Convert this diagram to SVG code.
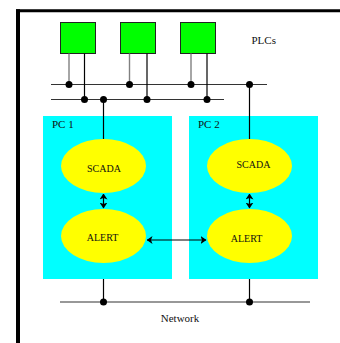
<svg xmlns="http://www.w3.org/2000/svg" width="340" height="343" viewBox="0 0 340 343">
  <style>
    .frame { stroke: #000; fill: none; }
    .plc { fill: #00ff00; stroke: #222; stroke-width: 1; }
    .pc { fill: #00ffff; stroke: none; }
    .app { fill: #ffff00; stroke: none; }
    .wire { stroke: #000; stroke-width: 1.2; fill: none; }
    .wire-grey { stroke: #808080; stroke-width: 1.4; fill: none; }
    .bus { stroke: #333; stroke-width: 1.2; fill: none; }
    .dot { fill: #000; }
    .lbl { font-family: "Liberation Serif", "Times New Roman", serif; font-size: 11px; fill: #111; }
    .app-lbl { font-family: "Liberation Serif", "Times New Roman", serif; font-size: 10px; fill: #111; text-anchor: middle; }
  </style>
  <defs>
    <marker id="head" viewBox="0 0 6 8" refX="5.5" refY="4" markerWidth="6" markerHeight="8" markerUnits="userSpaceOnUse" orient="auto-start-reverse">
      <path d="M0,0 L6,4 L0,8 L1.5,4 Z" fill="#000"/>
    </marker>
  </defs>

  <rect width="340" height="343" fill="#fff"/>

  <!-- outer frame (top and left edges) -->
  <g id="frame" class="frame">
    <line x1="16" y1="10.7" x2="340" y2="10.7" stroke-width="3"/>
    <line x1="18" y1="9.2" x2="18" y2="343" stroke-width="4"/>
  </g>

  <!-- field controllers -->
  <g id="plc1"><rect class="plc" x="60.5" y="22.5" width="35" height="31"/></g>
  <g id="plc2"><rect class="plc" x="120.5" y="22.5" width="35" height="31"/></g>
  <g id="plc3"><rect class="plc" x="180.5" y="22.5" width="35" height="31"/></g>
  <g id="plcs-label"><text class="lbl" x="251.5" y="44">PLCs</text></g>

  <!-- workstations -->
  <g id="pc1">
    <rect class="pc" x="43" y="116" width="129" height="163"/>
    <text class="lbl" x="52" y="128">PC 1</text>
  </g>
  <g id="pc2">
    <rect class="pc" x="189" y="116" width="129" height="163"/>
    <text class="lbl" x="198" y="128">PC 2</text>
  </g>

  <g id="scada1">
    <ellipse class="app" cx="103.5" cy="166" rx="42.5" ry="27"/>
    <text class="app-lbl" x="104" y="172">SCADA</text>
  </g>
  <g id="alert1">
    <ellipse class="app" cx="103.5" cy="236" rx="42.5" ry="27"/>
    <text class="app-lbl" x="102.5" y="241">ALERT</text>
  </g>
  <g id="scada2">
    <ellipse class="app" cx="249.5" cy="166" rx="42.5" ry="27"/>
    <text class="app-lbl" x="253.5" y="168">SCADA</text>
  </g>
  <g id="alert2">
    <ellipse class="app" cx="249.5" cy="236" rx="42.5" ry="27"/>
    <text class="app-lbl" x="246.5" y="242">ALERT</text>
  </g>

  <g id="network-label"><text class="lbl" x="180" y="322" text-anchor="middle">Network</text></g>

  <!-- connectors -->
  <g id="connectors">
    <!-- field buses -->
    <line class="bus" x1="51" y1="84.5" x2="267" y2="84.5"/>
    <line class="bus" x1="51" y1="99.5" x2="224" y2="99.5"/>

    <!-- PLC drops -->
    <line class="wire-grey" x1="69" y1="53.5" x2="69" y2="84.5"/>
    <line class="wire" x1="84.5" y1="53.5" x2="84.5" y2="99.5"/>
    <line class="wire-grey" x1="129.5" y1="53.5" x2="129.5" y2="84.5"/>
    <line class="wire" x1="147" y1="53.5" x2="147" y2="99.5"/>
    <line class="wire-grey" x1="191" y1="53.5" x2="191" y2="84.5"/>
    <line class="wire" x1="207" y1="53.5" x2="207" y2="99.5"/>

    <!-- bus to SCADA -->
    <line class="wire" x1="103.5" y1="99.5" x2="103.5" y2="139"/>
    <line class="wire" x1="249.5" y1="84.5" x2="249.5" y2="139"/>

    <!-- SCADA <-> ALERT -->
    <line class="wire" x1="103.5" y1="194" x2="103.5" y2="208" marker-start="url(#head)" marker-end="url(#head)"/>
    <line class="wire" x1="249.5" y1="194" x2="249.5" y2="208" marker-start="url(#head)" marker-end="url(#head)"/>

    <!-- ALERT <-> ALERT -->
    <line class="wire" x1="147" y1="240" x2="206" y2="240" marker-start="url(#head)" marker-end="url(#head)"/>

    <!-- network -->
    <line class="bus" x1="60" y1="302" x2="310" y2="302"/>
    <line class="wire" x1="103.5" y1="279" x2="103.5" y2="302"/>
    <line class="wire" x1="249.5" y1="279" x2="249.5" y2="302"/>

    <!-- junctions -->
    <circle class="dot" cx="69" cy="84.5" r="3.5"/>
    <circle class="dot" cx="129.5" cy="84.5" r="3.5"/>
    <circle class="dot" cx="191" cy="84.5" r="3.5"/>
    <circle class="dot" cx="249.5" cy="84.5" r="3.5"/>
    <circle class="dot" cx="84.5" cy="99.5" r="3.5"/>
    <circle class="dot" cx="103.5" cy="99.5" r="3.5"/>
    <circle class="dot" cx="147" cy="99.5" r="3.5"/>
    <circle class="dot" cx="207" cy="99.5" r="3.5"/>
    <circle class="dot" cx="103.5" cy="302" r="3.5"/>
    <circle class="dot" cx="249.5" cy="302" r="3.5"/>
  </g>
</svg>
